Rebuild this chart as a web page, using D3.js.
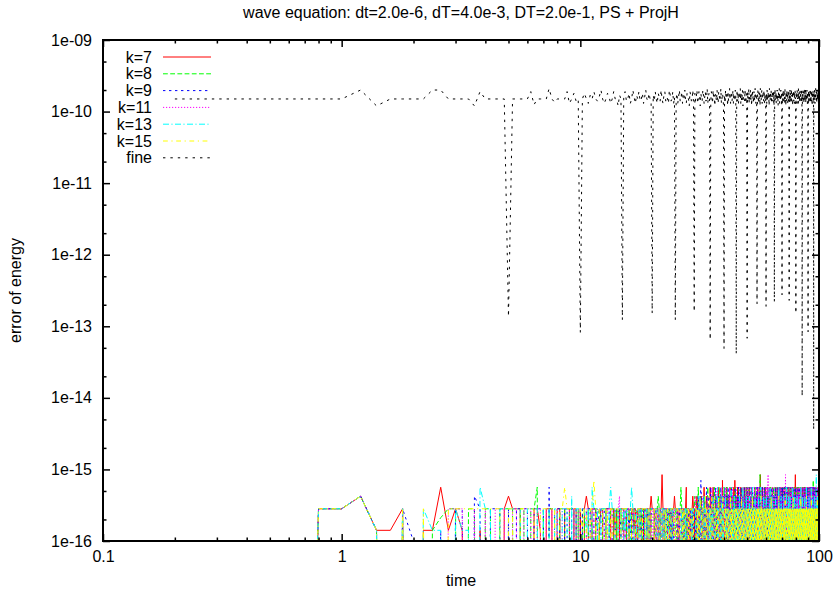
<!DOCTYPE html>
<html>
<head>
<meta charset="utf-8">
<script src="https://cdn.jsdelivr.net/npm/d3@7"></script>
<style>
  html, body { margin: 0; padding: 0; background: #fff; }
  svg text { font-family: "Liberation Sans", Arial, Helvetica, sans-serif; fill: #000; }
</style>
</head>
<body>
<svg id="chart" width="835" height="594"></svg>
<script>
// ---- labels and axes ----
const TITLE = "wave equation: dt=2.0e-6, dT=4.0e-3, DT=2.0e-1, PS + ProjH";
const X_LABEL = "time";
const Y_LABEL = "error of energy";
const xTicks = [0.1, 1, 10, 100];
const xTickLabels = ["0.1", "1", "10", "100"];
const yTicks = [1e-16, 1e-15, 1e-14, 1e-13, 1e-12, 1e-11, 1e-10, 1e-9];
const yTickLabels = ["1e-16", "1e-15", "1e-14", "1e-13", "1e-12", "1e-11", "1e-10", "1e-09"];

// ---- data ----
const STEP = 0.2;        // coarse time step DT; samples at STEP, 2*STEP, ... 100
const QUANTUM = 1.41e-16; // round-off quantum of the energy error
const FINE_UNIT = 1e-10;

// energy error of the parareal iterates, in multiples of QUANTUM (0 = exact)
const k7 = [
  0,0,0,2,2,3,1,1,2,0,1,1,4,1,2,1,0,0,1,0,0,0,0,2,3,
  2,2,2,0,0,0,2,2,1,0,2,2,2,0,2,2,0,2,2,2,0,2,2,0,2,
  0,2,3,2,0,2,2,2,0,1,2,2,0,2,2,2,2,0,2,1,2,0,2,2,2,
  2,0,2,2,2,0,2,2,1,2,0,2,2,2,2,0,2,2,0,2,2,0,2,3,2,
  2,2,0,2,2,2,0,2,2,6,2,0,2,2,2,2,0,2,2,2,0,2,2,3,2,
  2,2,2,0,2,2,2,2,0,2,2,2,2,4,0,2,2,2,0,2,2,2,3,2,0,
  2,0,2,3,2,2,0,2,2,2,3,0,2,2,4,2,0,2,3,2,2,0,2,2,4,
  2,3,0,2,4,2,2,0,3,2,2,0,2,4,2,3,0,2,2,3,0,5,2,0,2,
  2,0,3,2,4,0,2,3,2,0,2,4,0,3,2,2,0,3,2,4,0,5,2,0,3,
  0,2,4,2,0,3,2,2,0,4,3,0,2,2,3,0,2,4,0,2,3,2,0,4,2,
  3,0,2,2,4,0,3,2,0,2,4,2,0,3,2,0,2,3,4,0,2,2,0,3,2,
  2,4,0,2,3,0,2,2,6,0,3,2,2,0,4,2,3,0,2,2,0,3,4,2,0,
  2,3,0,4,2,0,2,3,2,0,2,4,0,3,2,2,0,2,4,0,3,2,0,2,3,
  0,2,3,0,4,2,2,0,3,2,4,0,2,2,0,3,2,4,0,2,3,0,2,2,4,
  2,0,3,2,2,4,0,2,3,0,2,2,0,4,3,2,0,2,3,2,0,4,2,0,2,
  3,2,0,2,4,0,3,2,2,0,3,4,0,2,2,3,0,2,4,2,0,3,6,2,0,
  2,3,0,4,2,0,2,3,0,2,4,2,0,3,2,0,2,2,4,0,3,2,0,2,3,
  0,4,2,2,0,3,2,0,4,2,3,0,2,2,0,4,3,2,0,2,3,0,2,4,2,
  2,0,3,4,2,0,2,3,0,2,2,4,0,3,2,0,2,4,3,0,2,2,0,3,2,
  4,2,0,3,2,2,0,4,2,0,3,2,2,0,4,3,0,2,2,3,0,2,4,0,2
];
const k8 = [
  0,0,0,2,2,3,1,0,2,0,0,1,1.5,2,2,0,2,2,0,2,2,0,2,2,2,
  2,0,2,2,0,2,2,4,0,2,0,2,2,2,0,2,2,2,0,2,2,2,0,2,0,
  2,2,0,2,2,1,0,2,2,2,0,2,2,2,0,1,2,2,2,0,2,2,0,2,1,
  2,2,2,0,2,2,2,0,2,2,2,0,2,1,2,2,0,2,2,2,0,2,2,2,0,
  0,2,2,2,2,3,2,0,2,2,2,2,0,2,2,2,1,2,0,2,2,2,2,0,2,
  2,0,2,2,2,2,4,2,2,0,2,2,0,2,2,2,2,0,2,2,2,0,2,2,2,
  3,2,2,0,2,4,2,2,0,3,2,2,2,0,2,3,2,0,2,2,4,2,2,0,2,
  2,0,3,2,2,0,4,2,3,2,0,2,2,0,3,2,4,2,0,2,2,3,0,2,4,
  3,2,0,2,2,4,0,3,2,2,0,3,2,0,4,2,2,0,3,2,0,2,4,2,0,
  2,3,0,2,4,0,2,2,3,0,2,0,4,2,3,0,2,2,0,3,2,4,0,2,3,
  0,2,3,4,0,2,2,0,3,2,0,4,2,2,0,3,0,2,2,4,0,3,2,0,2,
  2,2,0,3,2,4,0,6,2,3,0,2,4,0,2,2,0,3,2,0,4,2,2,3,0,
  3,0,2,2,4,0,3,2,0,2,2,3,0,4,2,0,3,2,2,0,2,4,0,2,3,
  2,4,0,3,2,0,2,2,4,0,3,2,0,2,4,2,0,3,2,2,0,3,4,0,2,
  0,2,2,4,0,3,2,0,2,3,4,0,2,2,0,3,2,4,0,2,2,0,3,2,4,
  2,0,4,2,3,0,2,2,0,4,2,3,0,2,2,0,4,3,2,0,2,2,0,4,2,
  3,2,0,2,2,4,0,3,2,0,2,4,2,0,3,2,2,0,4,2,0,3,2,2,0,
  2,0,3,2,4,0,2,2,0,3,2,0,4,2,3,0,2,2,4,0,2,3,0,2,2,
  4,2,0,2,3,0,2,4,2,0,3,2,0,2,2,4,0,3,2,0,2,2,5,0,3,
  0,3,2,2,0,4,2,3,0,2,2,0,3,4,2,0,2,2,3,0,4,2,0,3,2
];
const k9 = [
  0,0,0,2,2,3,1,0,2,0.7,0,0,1,0,2,2,0,3,2,0,2,2,2,0,2,
  0,2,2,2,2,0,2,2,2,2,0,4,0,2,2,2,0,2,2,0,2,2,2,0,2,
  2,0,2,2,2,0,2,2,1,2,2,0,2,2,2,2,0,2,2,2,0,2,2,1,0,
  0,2,2,2,1,2,0,2,2,2,2,2,0,2,2,0,2,2,2,1,2,2,0,2,2,
  2,2,2,0,2,2,2,2,0,2,2,2,2,0,2,1,2,2,2,0,2,0,2,2,2,
  2,2,0,2,2,0,2,2,2,2,2,0,2,2,2,0,2,2,2,2,0,2,2,0,2,
  2,2,0,2,2,3,2,0,2,5,2,2,0,3,2,2,0,2,4,2,0,2,3,2,2,
  4,2,2,0,3,2,0,2,4,0,3,2,2,3,0,2,2,0,4,2,3,0,2,3,2,
  2,4,0,2,3,2,0,4,2,0,3,2,2,0,4,3,0,2,2,0,3,2,4,0,2,
  0,2,3,0,4,2,2,0,3,2,4,0,2,3,0,2,2,4,0,3,2,0,2,2,4,
  2,3,0,2,2,0,4,3,2,0,2,2,4,0,3,2,0,4,2,2,0,3,2,4,0,
  4,0,2,3,0,2,4,2,0,2,3,0,2,4,2,0,3,2,2,0,4,3,0,2,2,
  2,2,4,0,3,2,0,2,4,3,0,2,2,0,4,2,3,0,2,4,0,2,3,2,0,
  3,0,2,4,2,0,3,2,2,0,4,2,3,0,2,2,0,4,2,3,0,2,2,4,0,
  2,4,0,2,3,0,2,4,2,2,0,3,2,0,4,2,2,0,3,4,0,2,2,3,0,
  0,2,3,4,0,2,2,0,3,2,4,0,2,2,0,3,4,2,0,2,3,0,2,4,2,
  2,0,4,2,3,0,2,2,4,0,2,3,0,4,2,2,0,3,2,4,0,2,2,0,3,
  3,2,0,4,2,2,0,3,2,0,4,2,2,3,0,2,4,0,2,2,3,0,4,2,0,
  2,3,0,2,4,0,2,2,3,0,2,4,2,0,3,2,0,4,2,2,0,3,2,0,4,
  0,2,4,3,0,2,2,0,4,2,3,0,2,2,4,0,3,2,0,2,4,2,0,3,2
];
const k11 = [
  0,0,0,2,2,3,1,0,2,0,0,0,0,2,2,2,0,2,0,2,0,2,2,2,0,
  2,2,0,2,2,2,0,2,2,0,2,2,2,0,2,0,2,2,2,2,0,2,0,2,2,
  2,2,2,0,2,2,2,0,2,2,2,2,1,0,2,2,2,2,0,2,2,2,3,0,2,
  2,2,0,2,2,2,2,2,0,2,2,0,2,2,2,2,2,0,2,2,2,2,2,0,2,
  2,0,2,2,2,0,2,2,2,2,0,2,2,2,2,2,0,2,2,2,2,2,0,2,0,
  0,2,2,2,0,2,2,2,2,0,2,2,2,2,2,2,0,2,2,0,2,2,2,2,2,
  2,3,2,2,0,2,2,3,2,0,2,2,3,2,0,2,2,2,0,3,2,2,0,2,3,
  0,2,4,3,0,2,3,2,0,2,2,4,0,2,2,0,3,2,2,0,4,2,2,0,3,
  0,3,2,4,0,2,2,0,3,2,4,0,2,3,0,2,4,2,0,2,3,0,2,2,4,
  2,2,0,3,2,0,4,2,2,0,3,2,0,2,4,2,0,3,2,2,0,4,3,0,2,
  3,0,4,2,0,2,3,2,0,4,2,0,2,3,2,0,2,4,0,3,2,2,0,2,4,
  2,3,0,2,4,0,2,2,3,0,2,4,0,2,2,3,0,4,2,0,2,3,2,0,4,
  0,2,2,4,3,6,0,2,3,0,2,4,2,0,2,3,0,2,4,2,0,3,2,2,0,
  4,2,0,3,2,2,0,4,2,0,3,2,2,0,4,3,0,2,2,0,3,4,2,0,2,
  2,0,3,2,4,0,2,3,0,2,2,6,0,3,2,0,4,2,2,0,3,2,0,4,2,
  3,2,0,2,2,4,0,3,2,0,4,2,0,2,3,2,0,4,2,2,0,3,2,0,2,
  0,4,2,2,0,3,2,0,4,2,3,0,2,2,0,4,2,3,0,2,2,4,0,3,2,
  2,2,0,4,3,0,2,2,0,3,2,4,0,2,3,0,2,2,4,0,3,2,0,2,3,
  4,0,2,3,0,2,2,4,0,3,2,0,2,4,2,0,3,2,0,2,4,3,0,2,2,
  2,3,0,2,4,2,0,3,2,0,2,4,0,3,2,2,0,4,2,0,3,2,2,0,4
];
const k13 = [
  0,0,0,2,2,3,1,0,2,0,2,1,1,0,2,1,1,0,4,2,2,0,2,2,2,
  2,2,2,0,2,2,2,2,0,2,2,2,0,2,2,0,2,2,2,0,3,0,2,2,2,
  2,2,1,2,0,4,2,2,2,0,2,2,2,2,0,2,4,2,2,2,0,2,2,2,0,
  2,1,2,2,0,2,4,2,2,0,2,2,2,0,2,2,2,2,0,2,0,2,2,2,2,
  2,2,2,2,0,2,2,2,0,2,2,0,2,2,2,0,2,2,2,2,0,2,2,2,2,
  2,2,2,2,2,2,0,2,0,2,2,2,2,0,2,2,2,2,2,2,2,0,2,2,0,
  0,2,2,2,2,0,3,2,2,2,0,2,2,2,3,0,2,2,2,2,2,0,2,2,0,
  2,2,0,2,3,2,2,0,2,2,2,2,4,0,2,2,2,2,0,2,3,2,0,2,2,
  2,2,3,0,2,2,0,2,2,2,0,2,2,4,0,2,2,0,2,2,3,0,2,2,0,
  2,0,2,2,2,0,3,2,2,0,2,2,2,0,4,2,0,2,2,2,0,2,3,2,0,
  2,2,0,2,2,3,0,2,2,0,2,2,4,0,2,2,2,0,2,3,0,2,2,2,0,
  0,2,2,3,0,2,2,0,2,4,2,0,2,2,2,0,2,3,2,0,2,2,0,2,2,
  3,2,0,2,2,0,2,2,2,0,2,4,0,2,2,0,2,3,2,0,2,2,0,2,2,
  2,0,2,3,0,2,2,2,0,2,2,0,2,4,2,0,2,2,0,2,2,3,0,2,2,
  2,2,0,2,2,3,0,2,2,0,2,2,2,0,4,2,0,2,2,2,0,2,3,0,2,
  0,2,3,2,0,2,2,0,2,2,2,0,4,2,0,2,2,2,0,3,2,0,2,2,2,
  2,2,0,2,3,0,2,2,2,0,2,2,2,0,3,2,0,2,2,4,0,2,2,0,2,
  3,0,2,2,2,0,2,2,0,2,3,2,0,2,2,0,2,4,2,0,2,2,2,0,2,
  2,2,0,3,2,0,2,2,2,0,2,2,0,4,2,2,0,2,3,0,2,2,2,0,2,
  0,2,3,2,0,2,2,2,2,0,2,6,0,2,2,2,0,3,2,2,0,2,2,2,0
];
const k15 = [
  0,0,0,2,2,3,1,0,2,0,2,0,0,2,2,2,2,2,2,2,2,2,2,0,2,
  2,0,2,2,2,2,2,0,2,2,2,2,2,2,0,2,2,4,2,2,2,2,2,2,2,
  1,2,2,0,2,2,5,2,0,2,2,2,0,2,2,0,2,2,0,2,2,2,0,2,2,
  2,2,2,2,2,0,2,2,2,2,0,2,2,2,0,2,2,2,2,0,2,2,0,2,2,
  2,2,0,2,2,2,2,0,2,2,2,2,0,2,0,2,2,2,0,2,2,2,2,0,2,
  2,2,2,0,2,2,2,0,2,2,0,2,2,2,2,0,2,2,0,2,2,2,0,2,2,
  2,2,2,0,2,2,0,2,3,2,2,0,2,2,2,0,3,2,2,0,2,2,2,3,0,
  2,2,3,0,2,2,2,3,0,2,2,0,2,2,3,0,2,2,2,0,2,2,3,0,2,
  2,0,2,2,0,2,1,0,2,2,0,2,3,0,2,0,2,2,0,1,2,0,2,2,0,
  2,0,2,1,0,2,2,0,2,0,2,3,0,2,2,0,2,0,1,2,0,2,2,0,2,
  0,2,2,0,2,1,0,2,0,2,2,0,3,2,0,2,0,2,1,0,2,2,0,2,0,
  2,0,1,2,0,2,2,0,2,0,3,2,0,2,0,2,2,0,1,2,0,2,0,2,2,
  0,2,0,2,2,0,1,2,0,2,0,2,2,0,3,2,0,2,0,2,1,0,2,2,0,
  2,2,0,2,0,1,2,0,2,2,0,2,0,3,2,0,2,1,0,2,0,2,2,0,2,
  0,2,1,0,2,2,0,2,0,2,3,0,2,2,0,1,2,0,2,0,2,2,0,2,1,
  2,0,2,2,0,2,0,1,2,0,2,2,0,2,3,0,2,0,2,2,1,0,2,0,2,
  0,2,2,0,1,2,0,2,2,0,2,0,2,1,0,2,2,0,3,2,0,2,0,2,2,
  2,1,0,2,0,2,2,0,2,1,0,2,0,2,2,0,2,3,0,2,0,1,2,2,0,
  2,0,2,0,2,2,1,0,2,0,2,2,0,3,2,0,2,0,2,1,0,2,2,0,2,
  0,2,2,1,0,2,0,2,2,0,1,2,0,2,0,2,3,0,2,2,0,2,1,0,2
];
// energy error of the fine solver, in units of FINE_UNIT
const fine = [
  1.5,1.5,1.5,1.5,1.5,2.0,1.2,1.5,1.5,1.5,1.5,2.0,2.0,1.5,1.5,1.5,1.5,1.2,1.9,1.5,1.5,1.5,1.5,1.5,1.37e-3,
  1.5,1.5,1.5,1.5,1.5,1.9,1.25,1.5,1.5,1.5,1.5,2.1,1.5,1.35,1.5,1.5,1.5,1.5,1.9,1.3,1.5,1.8,1.4,1.5,8.2e-4,
  1.5,1.8,1.5,1.3,1.7,1.5,1.9,1.5,1.4,1.6,2.0,1.5,1.3,1.5,1.8,1.6,1.3,1.5,1.9,1.5,1.5,1.2,1.7,1.5,1.23e-3,
  1.6,1.9,1.4,1.5,1.8,1.3,1.5,2.0,1.6,1.3,1.7,1.5,1.9,1.4,1.5,1.8,1.3,1.6,2.0,1.5,1.4,1.8,1.5,1.3,1.52e-3,
  1.7,1.4,1.9,1.5,1.3,1.8,1.6,1.4,2.0,1.5,1.3,1.7,1.9,1.4,1.6,1.5,1.3,2.0,1.7,1.4,1.5,1.9,1.3,1.6,1.23e-3,
  1.5,1.8,1.3,1.6,2.0,1.4,1.5,1.9,1.3,1.7,1.5,2.0,1.4,1.3,1.8,1.6,1.5,1.2,1.9,1.7,1.4,1.5,2.0,1.3,1.6e-3,
  1.8,1.4,1.6,2.0,1.3,1.5,1.9,1.6,1.2,1.8,1.5,1.4,2.0,1.7,1.3,1.6,1.9,1.4,1.5,2.1,1.3,1.6,1.8,1.4,6.5e-4,
  1.4,1.9,1.6,1.3,2.0,1.5,1.7,1.2,1.8,1.6,1.4,2.0,1.5,1.3,1.9,1.7,1.4,1.6,2.1,1.3,1.5,1.8,1.6,1.2,4.9e-4,
  1.7,1.3,2.0,1.5,1.6,1.9,1.2,1.8,1.4,1.6,2.1,1.5,1.3,1.9,1.7,1.4,1.6,2.0,1.3,1.8,1.5,1.4,2.0,1.6,4.1e-4,
  1.5,2.0,1.4,1.7,1.3,1.9,1.6,1.5,2.1,1.3,1.8,1.4,1.6,2.0,1.2,1.7,1.9,1.5,1.4,2.0,1.6,1.3,1.8,1.5,6.8e-4,
  1.9,1.4,1.6,2.1,1.3,1.7,1.5,2.0,1.4,1.8,1.2,1.6,2.0,1.5,1.7,1.3,1.9,1.6,1.4,2.1,1.5,1.3,1.8,1.7,2.06e-3,
  1.4,2.0,1.6,1.3,1.9,1.5,1.8,1.2,2.1,1.6,1.4,1.7,2.0,1.3,1.5,1.9,1.6,1.4,2.0,1.7,1.3,1.8,1.5,1.6,1.9e-3,
  1.8,1.3,2.0,1.6,1.4,1.9,1.5,1.7,1.2,2.1,1.6,1.4,1.8,1.5,2.0,1.3,1.7,1.6,1.9,1.4,1.5,2.0,1.3,1.8,2.2e-3,
  1.6,2.1,1.4,1.5,1.9,1.3,1.8,1.6,2.0,1.4,1.7,1.2,1.9,1.5,1.6,2.1,1.3,1.8,1.4,1.7,2.0,1.5,1.3,1.9,2.75e-3,
  1.5,1.8,1.3,2.0,1.6,1.4,1.9,1.7,1.3,2.1,1.5,1.6,1.2,1.9,1.8,1.4,2.0,1.5,1.7,1.3,1.9,1.6,1.4,2.0,2.3e-3,
  1.7,1.4,2.0,1.5,1.8,1.3,1.6,2.1,1.4,1.7,1.5,1.9,1.2,1.8,1.6,2.0,1.4,1.5,1.9,1.3,1.7,2.0,1.5,1.6,1.52e-3,
  1.4,1.9,1.6,1.3,2.0,1.7,1.5,1.8,1.2,2.1,1.6,1.4,1.9,1.5,1.7,1.3,2.0,1.6,1.8,1.4,1.5,2.1,1.3,1.7,1.05e-4,
  1.8,1.5,2.0,1.4,1.6,1.9,1.3,1.7,2.1,1.5,1.4,1.8,1.6,2.0,1.3,1.9,1.5,1.7,1.4,2.0,1.6,1.3,1.9,1.5,8.4e-4,
  1.6,2.0,1.3,1.8,1.5,1.9,1.4,1.7,2.1,1.6,1.3,1.9,1.5,1.8,1.4,2.0,1.6,1.2,1.9,1.7,1.5,2.0,1.4,1.8,3.6e-5,
  1.5,1.9,1.4,2.0,1.7,1.3,1.8,1.6,2.1,1.4,1.5,1.9,1.6,1.3,2.0,1.7,1.5,1.8,1.4,2.0,1.6,1.3,1.9,1.5,4e-5
];

const seriesNames  = ["k=7", "k=8", "k=9", "k=11", "k=13", "k=15", "fine"];
const seriesColors = ["#ff0000", "#00ff00", "#0000ff", "#ff00ff", "#00ffff", "#ffff00", "#000000"];
const seriesDashes = ["none", "4.8,2.4", "2.4,3.6", "1.2,1.8", "6,2.4,1.2,2.4", "4.8,3.6,1.2,3.6", "2.4,5"];

// ---- layout ----
const plot = { left: 103, right: 819, top: 40, bottom: 541 };
const FLOOR = 1e-30;   // exact zeros are drawn as dropping off the bottom of the log axis

const svg = d3.select("#chart");
const x = d3.scaleLog().domain([0.1, 100]).range([plot.left, plot.right]);
const y = d3.scaleLog().domain([1e-16, 1e-9]).range([plot.bottom, plot.top]);

svg.append("defs").append("clipPath").attr("id", "plot-clip")
  .append("rect")
  .attr("x", plot.left).attr("y", plot.top)
  .attr("width", plot.right - plot.left).attr("height", plot.bottom - plot.top);

// ---- series ----
const kSeries = [k7, k8, k9, k11, k13, k15].map(arr => arr.map(n => n * QUANTUM));
const fineSeries = fine.map(v => v * FINE_UNIT);
const allSeries = kSeries.concat([fineSeries]);

const line = d3.line()
  .x(d => x(d[0]))
  .y(d => y(Math.max(d[1], FLOOR)));

const lines = svg.append("g").attr("clip-path", "url(#plot-clip)");
allSeries.forEach((vals, s) => {
  const pts = vals.map((v, i) => [+(STEP * (i + 1)).toFixed(1), v]);
  lines.append("path")
    .datum(pts)
    .attr("d", line)
    .attr("fill", "none")
    .attr("stroke", seriesColors[s])
    .attr("stroke-width", 1)
    .attr("stroke-dasharray", seriesDashes[s]);
});

// ---- axes (gnuplot style: inward ticks, mirrored) ----
const MAJOR = 7, MINOR = 3.5;
const xMinor = [];
[0.1, 1, 10].forEach(d => { for (let m = 2; m <= 9; m++) xMinor.push(d * m); });
const yMinor = [];
yTicks.slice(0, -1).forEach(d => { yMinor.push(d * 2, d * 5); });

function styleAxis(g) {
  g.select(".domain").remove();
  g.selectAll(".tick line").attr("stroke", "#000").attr("stroke-width", 1.5);
  g.selectAll(".tick text").attr("font-size", 16).attr("fill", "#000")
    .style("font-family", "'Liberation Sans', Arial, Helvetica, sans-serif");
}

// bottom
svg.append("g").attr("transform", `translate(0,${plot.bottom})`)
  .call(d3.axisBottom(x).tickValues(xTicks).tickSize(-MAJOR).tickPadding(10)
    .tickFormat((d, i) => xTickLabels[i]))
  .call(styleAxis);
svg.append("g").attr("transform", `translate(0,${plot.bottom})`)
  .call(d3.axisBottom(x).tickValues(xMinor).tickSize(-MINOR).tickFormat(""))
  .call(styleAxis);
// top mirror
svg.append("g").attr("transform", `translate(0,${plot.top})`)
  .call(d3.axisTop(x).tickValues(xTicks).tickSize(-MAJOR).tickFormat(""))
  .call(styleAxis);
svg.append("g").attr("transform", `translate(0,${plot.top})`)
  .call(d3.axisTop(x).tickValues(xMinor).tickSize(-MINOR).tickFormat(""))
  .call(styleAxis);
// left
svg.append("g").attr("transform", `translate(${plot.left},0)`)
  .call(d3.axisLeft(y).tickValues(yTicks).tickSize(-MAJOR).tickPadding(11)
    .tickFormat((d, i) => yTickLabels[i]))
  .call(styleAxis);
svg.append("g").attr("transform", `translate(${plot.left},0)`)
  .call(d3.axisLeft(y).tickValues(yMinor).tickSize(-MINOR).tickFormat(""))
  .call(styleAxis);
// right mirror
svg.append("g").attr("transform", `translate(${plot.right},0)`)
  .call(d3.axisRight(y).tickValues(yTicks).tickSize(-MAJOR).tickFormat(""))
  .call(styleAxis);
svg.append("g").attr("transform", `translate(${plot.right},0)`)
  .call(d3.axisRight(y).tickValues(yMinor).tickSize(-MINOR).tickFormat(""))
  .call(styleAxis);

// border
svg.append("rect")
  .attr("x", plot.left).attr("y", plot.top)
  .attr("width", plot.right - plot.left).attr("height", plot.bottom - plot.top)
  .attr("fill", "none").attr("stroke", "#000").attr("stroke-width", 2);

// ---- legend ----
const legend = svg.append("g");
seriesNames.forEach((name, s) => {
  const ly = 57 + s * 16.8;
  legend.append("text")
    .attr("x", 152).attr("y", ly).attr("dy", "0.35em")
    .attr("text-anchor", "end").attr("font-size", 16)
    .text(name);
  legend.append("line")
    .attr("x1", 163).attr("x2", 211).attr("y1", ly).attr("y2", ly)
    .attr("stroke", seriesColors[s]).attr("stroke-width", 1)
    .attr("stroke-dasharray", seriesDashes[s]);
});

// ---- titles ----
svg.append("text")
  .attr("x", (plot.left + plot.right) / 2).attr("y", 18)
  .attr("text-anchor", "middle").attr("font-size", 16)
  .text(TITLE);
svg.append("text")
  .attr("x", (plot.left + plot.right) / 2).attr("y", 586)
  .attr("text-anchor", "middle").attr("font-size", 16)
  .text(X_LABEL);
svg.append("text")
  .attr("transform", `translate(21,${(plot.top + plot.bottom) / 2}) rotate(-90)`)
  .attr("text-anchor", "middle").attr("font-size", 16)
  .text(Y_LABEL);
</script>
</body>
</html>
